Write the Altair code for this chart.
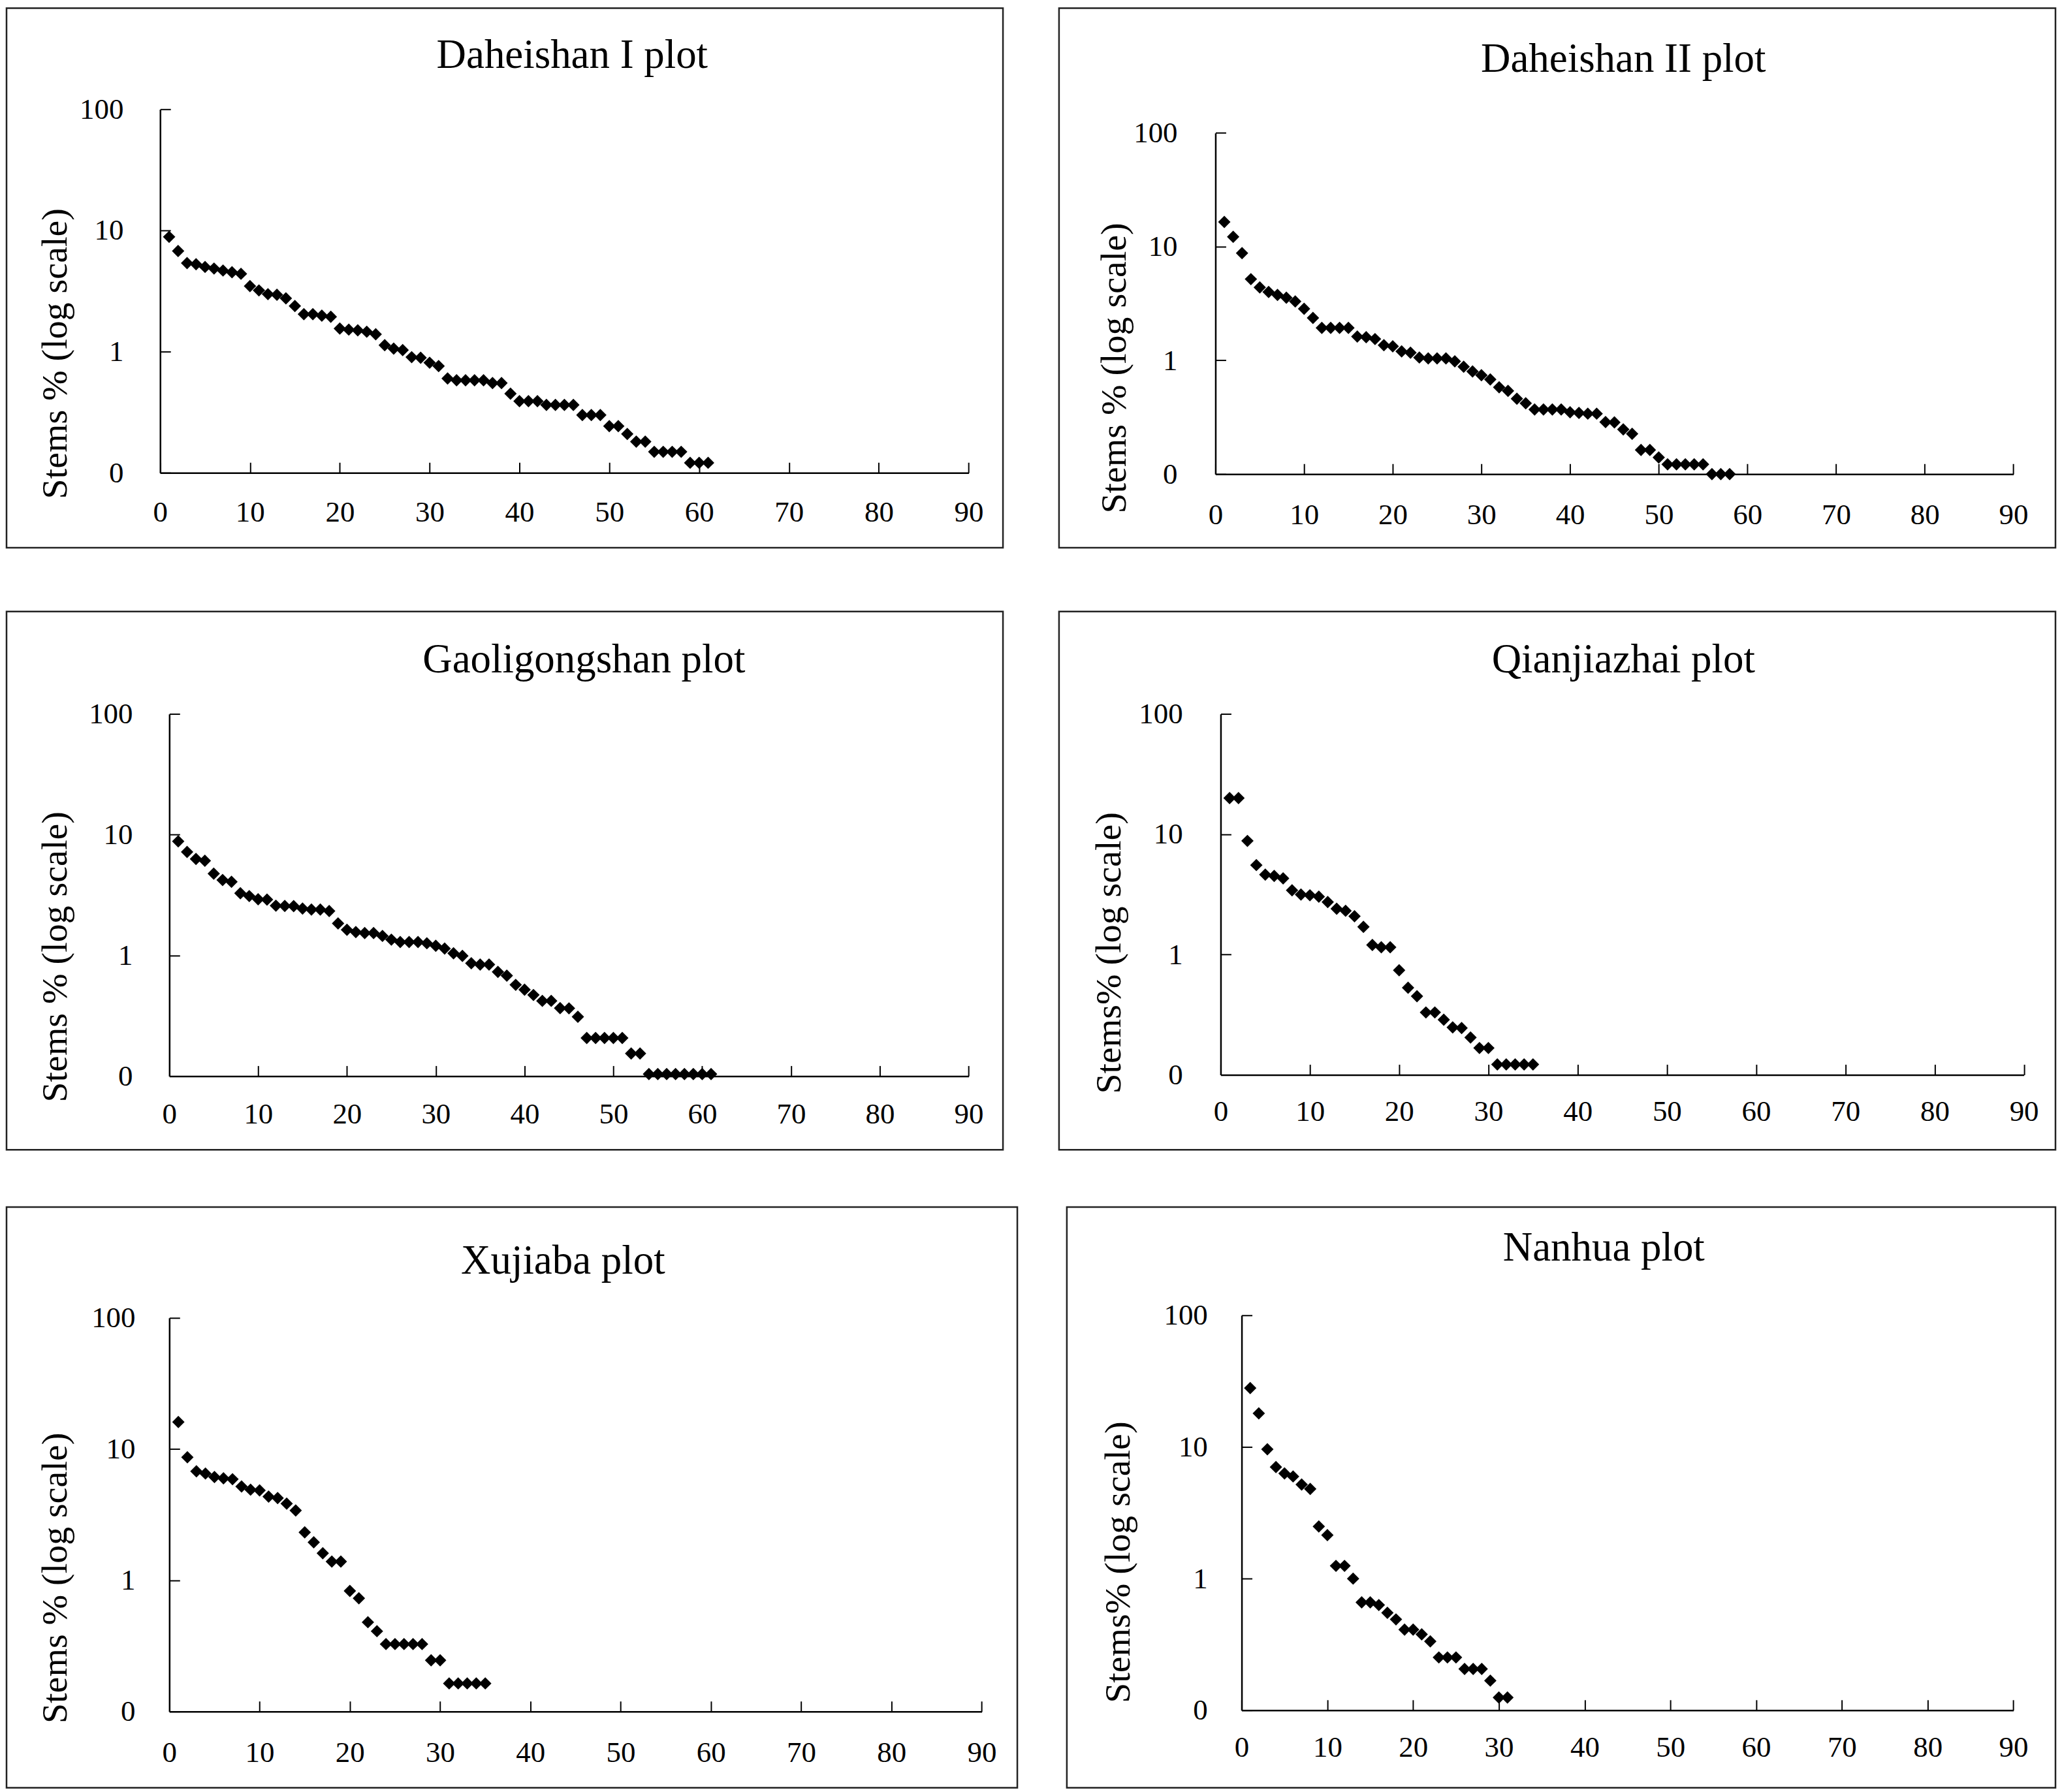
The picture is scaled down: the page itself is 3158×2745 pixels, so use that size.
import altair as alt
import pandas as pd

FONT = "Liberation Serif"

titles = ["Daheishan I plot", "Daheishan II plot", "Gaoligongshan plot",
          "Qianjiazhai plot", "Xujiaba plot", "Nanhua plot"]
ytitles = ["Stems % (log scale)", "Stems % (log scale)", "Stems % (log scale)",
           "Stems% (log scale)", "Stems % (log scale)", "Stems% (log scale)"]
x_ticks = [0, 10, 20, 30, 40, 50, 60, 70, 80, 90]
y_ticks = [0.1, 1, 10, 100]

daheishan1 = [8.85, 6.76, 5.38, 5.26, 5.0, 4.85, 4.67, 4.52, 4.39, 3.47, 3.2, 2.98, 2.95, 2.75,
              2.38, 2.04, 2.04, 1.98, 1.94, 1.55, 1.52, 1.5, 1.46, 1.39, 1.13, 1.06, 1.03, 0.9,
              0.89, 0.81, 0.76, 0.60, 0.58, 0.58, 0.58, 0.58, 0.55, 0.55, 0.45, 0.39, 0.39, 0.39,
              0.363, 0.363, 0.363, 0.363, 0.30, 0.30, 0.30, 0.243, 0.243, 0.209, 0.181, 0.181,
              0.149, 0.149, 0.149, 0.149, 0.121, 0.121, 0.121]
daheishan2 = [16.5, 12.2, 8.78, 5.18, 4.38, 4.0, 3.76, 3.56, 3.30, 2.84, 2.36, 1.93, 1.93, 1.93,
              1.93, 1.62, 1.6, 1.54, 1.36, 1.33, 1.2, 1.17, 1.06, 1.04, 1.04, 1.04, 0.98, 0.88,
              0.80, 0.74, 0.68, 0.58, 0.54, 0.46, 0.42, 0.37, 0.37, 0.37, 0.37, 0.35, 0.345, 0.34,
              0.34, 0.287, 0.285, 0.247, 0.226, 0.163, 0.163, 0.14, 0.122, 0.122, 0.122, 0.122,
              0.122, 0.1, 0.1, 0.1]
gaoligongshan = [8.8, 7.2, 6.3, 6.08, 4.75, 4.21, 4.07, 3.27, 3.1, 2.92, 2.9, 2.58, 2.57, 2.56,
                 2.44, 2.4, 2.4, 2.33, 1.84, 1.63, 1.56, 1.53, 1.53, 1.45, 1.35, 1.29, 1.29, 1.29,
                 1.26, 1.2, 1.14, 1.04, 0.99, 0.86, 0.84, 0.84, 0.73, 0.68, 0.57, 0.52, 0.47, 0.42,
                 0.42, 0.366, 0.364, 0.31, 0.207, 0.207, 0.207, 0.207, 0.207, 0.154, 0.154,
                 0.104, 0.104, 0.104, 0.104, 0.104, 0.104, 0.104, 0.104]
qianjiazhai = [20, 20, 8.8, 5.54, 4.62, 4.5, 4.3, 3.42, 3.15, 3.11, 3.03, 2.73, 2.4, 2.31, 2.08,
               1.7, 1.2, 1.15, 1.15, 0.74, 0.53, 0.45, 0.33, 0.33, 0.287, 0.248, 0.245, 0.204,
               0.167, 0.167, 0.122, 0.122, 0.122, 0.122, 0.122]
xujiaba = [16.1, 8.67, 6.77, 6.52, 6.13, 5.99, 5.9, 5.19, 4.91, 4.85, 4.35, 4.24, 3.84, 3.41,
           2.32, 1.95, 1.61, 1.39, 1.39, 0.83, 0.73, 0.48, 0.41, 0.327, 0.327, 0.327, 0.327,
           0.327, 0.246, 0.246, 0.164, 0.164, 0.164, 0.164, 0.164]
nanhua = [28, 18, 9.6, 7.03, 6.3, 5.97, 5.18, 4.8, 2.49, 2.14, 1.25, 1.25, 1.0, 0.66, 0.66, 0.63,
          0.55, 0.49, 0.41, 0.41, 0.377, 0.334, 0.252, 0.252, 0.252, 0.206, 0.206, 0.206, 0.168,
          0.125, 0.125]

series = [daheishan1, daheishan2, gaoligongshan, qianjiazhai, xujiaba, nanhua]

# panel geometry (pixels inside each framed panel)
layout = [
    dict(W=1529, H=828, x0=235.7, x90=1476.3, y100=155.1, y01=713.0, xpad=60.4, ypad=56.4, tx=74.6, ty=529.7, hx=868, hy=72.5),
    dict(W=1529, H=828, x0=240.0, x90=1464.4, y100=191.4, y01=715.0, xpad=62.4, ypad=58.5, tx=84.8, ty=551.9, hx=866, hy=78.6),
    dict(W=1529, H=826, x0=249.8, x90=1476.3, y100=157.1, y01=712.9, xpad=58.4, ypad=56.4, tx=74.6, ty=529.5, hx=886, hy=74.5),
    dict(W=1529, H=826, x0=248.0, x90=1480.5, y100=157.1, y01=710.9, xpad=56.4, ypad=58.4, tx=76.8, ty=523.5, hx=866, hy=74.5),
    dict(W=1551, H=891, x0=249.8, x90=1496.4, y100=170.0, y01=774.2, xpad=62.4, ypad=52.4, tx=74.6, ty=568.8, hx=854, hy=83.4),
    dict(W=1517, H=891, x0=268.2, x90=1452.4, y100=166.0, y01=772.2, xpad=56.4, ypad=52.4, tx=78.9, ty=544.6, hx=824, hy=63.2),
]


def panel(vals, title, ytitle, L):
    df = pd.DataFrame({"rank": list(range(1, len(vals) + 1)), "pct": vals})
    xs = alt.Scale(domain=[0, 90], range=[L["x0"], L["x90"]], nice=False, zero=False)
    ys = alt.Scale(type="log", domain=[0.1, 100], range=[L["y01"], L["y100"]], nice=False)

    pts = alt.Chart(df).mark_point(shape="diamond", filled=True, size=360,
                                   color="black", opacity=1).encode(
        x=alt.X("rank:Q", scale=xs, title=None,
                axis=alt.Axis(orient="bottom", offset=L["y01"] - L["H"], values=x_ticks,
                              ticks=False, domain=True, domainColor="black", domainWidth=2.5,
                              labelFont=FONT, labelFontSize=45, labelColor="black",
                              labelPadding=L["xpad"], labelBaseline="middle",
                              labelFlush=False, labelOverlap=False, grid=False)),
        y=alt.Y("pct:Q", scale=ys, title=ytitle,
                axis=alt.Axis(orient="left", offset=-L["x0"], values=y_ticks,
                              ticks=False, domain=True, domainColor="black", domainWidth=2.5,
                              labelFont=FONT, labelFontSize=45, labelColor="black",
                              labelExpr="datum.value < 0.5 ? '0' : format(datum.value, 'd')",
                              labelPadding=L["ypad"], labelBaseline="middle", labelAlign="right",
                              labelOverlap=False, grid=False,
                              titleFont=FONT, titleFontSize=56, titleFontWeight="normal",
                              titleColor="black", titleAngle=270, titleBaseline="middle",
                              titleAlign="center", titleX=L["tx"] - L["x0"], titleY=L["ty"])),
    )

    tk = alt.Chart(df).mark_point(opacity=0).encode(
        x=alt.X("rank:Q", scale=xs, title=None,
                axis=alt.Axis(orient="top", offset=-L["y01"], values=x_ticks,
                              ticks=True, tickSize=16, tickWidth=2, tickColor="black",
                              labels=False, domain=False, grid=False)),
        y=alt.Y("pct:Q", scale=ys, title=None,
                axis=alt.Axis(orient="right", offset=L["x0"] - L["W"], values=y_ticks,
                              ticks=True, tickSize=16, tickWidth=2, tickColor="black",
                              labels=False, domain=False, grid=False)),
    )

    ttl = alt.Chart(pd.DataFrame({"t": [title]})).mark_text(
        font=FONT, fontSize=63, color="black", baseline="middle", align="center"
    ).encode(text="t:N", x=alt.value(L["hx"]), y=alt.value(L["hy"]))

    return alt.layer(pts, tk, ttl).resolve_axis(x="independent", y="independent").properties(
        width=L["W"], height=L["H"])


panels = [panel(series[i], titles[i], ytitles[i], layout[i]) for i in range(6)]

row1 = alt.hconcat(panels[0], panels[1], spacing=82)
row2 = alt.hconcat(panels[2], panels[3], spacing=82)
row3 = alt.hconcat(panels[4], panels[5], spacing=72)

chart = alt.vconcat(row1, alt.vconcat(row2, row3, spacing=84), spacing=94).properties(
    padding=0, background="white"
).configure_view(stroke="#222222", strokeWidth=2.5)

chart.save("out.html", embed_options={"renderer": "svg", "actions": False})
